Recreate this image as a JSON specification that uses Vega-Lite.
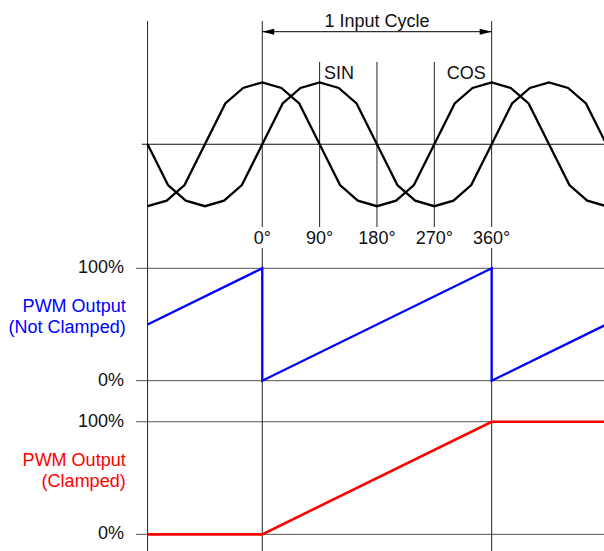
{
  "$schema": "https://vega.github.io/schema/vega-lite/v6.json",
  "padding": 0,
  "spacing": 0,
  "bounds": "flush",
  "background": "white",
  "config": {
    "view": {"stroke": null},
    "font": "Liberation Sans",
    "text": {"font": "Liberation Sans", "fontSize": 18, "color": "#111"}
  },
  "datasets": {
    "waves": [
      {"curve": "SIN", "deg": -180, "val": 0}, {"curve": "SIN", "deg": -148, "val": -0.66}, {"curve": "SIN", "deg": -120, "val": -0.91},
      {"curve": "SIN", "deg": -90, "val": -1}, {"curve": "SIN", "deg": -60, "val": -0.91}, {"curve": "SIN", "deg": -32, "val": -0.66},
      {"curve": "SIN", "deg": 0, "val": 0}, {"curve": "SIN", "deg": 32, "val": 0.66}, {"curve": "SIN", "deg": 60, "val": 0.91},
      {"curve": "SIN", "deg": 90, "val": 1}, {"curve": "SIN", "deg": 120, "val": 0.91}, {"curve": "SIN", "deg": 148, "val": 0.66},
      {"curve": "SIN", "deg": 180, "val": 0}, {"curve": "SIN", "deg": 212, "val": -0.66}, {"curve": "SIN", "deg": 240, "val": -0.91},
      {"curve": "SIN", "deg": 270, "val": -1}, {"curve": "SIN", "deg": 300, "val": -0.91}, {"curve": "SIN", "deg": 328, "val": -0.66},
      {"curve": "SIN", "deg": 360, "val": 0}, {"curve": "SIN", "deg": 392, "val": 0.66}, {"curve": "SIN", "deg": 420, "val": 0.91},
      {"curve": "SIN", "deg": 450, "val": 1}, {"curve": "SIN", "deg": 480, "val": 0.91}, {"curve": "SIN", "deg": 508, "val": 0.66},
      {"curve": "SIN", "deg": 540, "val": 0},
      {"curve": "COS", "deg": -180, "val": -1}, {"curve": "COS", "deg": -150, "val": -0.91}, {"curve": "COS", "deg": -122, "val": -0.66},
      {"curve": "COS", "deg": -90, "val": 0}, {"curve": "COS", "deg": -58, "val": 0.66}, {"curve": "COS", "deg": -30, "val": 0.91},
      {"curve": "COS", "deg": 0, "val": 1}, {"curve": "COS", "deg": 30, "val": 0.91}, {"curve": "COS", "deg": 58, "val": 0.66},
      {"curve": "COS", "deg": 90, "val": 0}, {"curve": "COS", "deg": 122, "val": -0.66}, {"curve": "COS", "deg": 150, "val": -0.91},
      {"curve": "COS", "deg": 180, "val": -1}, {"curve": "COS", "deg": 210, "val": -0.91}, {"curve": "COS", "deg": 238, "val": -0.66},
      {"curve": "COS", "deg": 270, "val": 0}, {"curve": "COS", "deg": 302, "val": 0.66}, {"curve": "COS", "deg": 330, "val": 0.91},
      {"curve": "COS", "deg": 360, "val": 1}, {"curve": "COS", "deg": 390, "val": 0.91}, {"curve": "COS", "deg": 418, "val": 0.66},
      {"curve": "COS", "deg": 450, "val": 0}, {"curve": "COS", "deg": 482, "val": -0.66}, {"curve": "COS", "deg": 510, "val": -0.91},
      {"curve": "COS", "deg": 540, "val": -1}
    ],
    "topLines": [
      {"deg": -180, "top": 1.991, "bot": -1.74},
      {"deg": 0, "top": 1.991, "bot": -1.336},
      {"deg": 0, "top": -1.675, "bot": -1.74},
      {"deg": 360, "top": 1.991, "bot": -1.336},
      {"deg": 360, "top": -1.675, "bot": -1.74},
      {"deg": 90, "top": 1.329, "bot": -1.336},
      {"deg": 180, "top": 1.329, "bot": -1.336},
      {"deg": 270, "top": 1.329, "bot": -1.336}
    ],
    "degLabels": [
      {"deg": 0, "label": "0°"}, {"deg": 90, "label": "90°"}, {"deg": 180, "label": "180°"},
      {"deg": 270, "label": "270°"}, {"deg": 360, "label": "360°"}
    ],
    "fullLines": [{"deg": -180}, {"deg": 0}, {"deg": 360}],
    "grid": [{"pct": 0, "label": "0%"}, {"pct": 100, "label": "100%"}],
    "sawtooth": [
      {"i": 0, "deg": -180, "pct": 50}, {"i": 1, "deg": 0, "pct": 100}, {"i": 2, "deg": 0, "pct": 0},
      {"i": 3, "deg": 360, "pct": 100}, {"i": 4, "deg": 360, "pct": 0}, {"i": 5, "deg": 540, "pct": 50}
    ],
    "clamped": [
      {"deg": -180, "pct": 0}, {"deg": 0, "pct": 0}, {"deg": 360, "pct": 100}, {"deg": 540, "pct": 100}
    ]
  },
  "vconcat": [
    {
      "width": 604,
      "height": 252,
      "layer": [
        {
          "data": {"values": [{"x1": -189, "x2": 536.3, "v": 0}]},
          "mark": {"type": "rule", "color": "#111", "strokeWidth": 1},
          "encoding": {
            "x": {"field": "x1", "type": "quantitative", "scale": {"domain": [-411.6, 536.3], "nice": false, "zero": false}, "axis": null},
            "x2": {"field": "x2"},
            "y": {"field": "v", "type": "quantitative", "scale": {"domain": [-1.74, 2.33], "nice": false, "zero": false}, "axis": null}
          }
        },
        {
          "data": {"name": "topLines"},
          "mark": {"type": "rule", "color": "#222", "strokeWidth": 1},
          "encoding": {
            "x": {"field": "deg", "type": "quantitative"},
            "y": {"field": "top", "type": "quantitative"},
            "y2": {"field": "bot"}
          }
        },
        {
          "data": {"name": "waves"},
          "mark": {"type": "line", "color": "black", "strokeWidth": 2.3, "clip": true},
          "encoding": {
            "x": {"field": "deg", "type": "quantitative"},
            "y": {"field": "val", "type": "quantitative"},
            "detail": {"field": "curve"}
          }
        },
        {
          "data": {"values": [{"a": 0, "b": 360, "v": 1.818}]},
          "mark": {"type": "rule", "color": "black", "strokeWidth": 1},
          "encoding": {
            "x": {"field": "a", "type": "quantitative"},
            "x2": {"field": "b"},
            "y": {"field": "v", "type": "quantitative"}
          }
        },
        {
          "data": {"values": [{"a": 0, "v": 1.818}]},
          "mark": {"type": "point", "shape": "M0,0 L2,-0.5 L2,0.5 Z", "size": 144, "filled": true, "color": "black", "opacity": 1},
          "encoding": {
            "x": {"field": "a", "type": "quantitative"},
            "y": {"field": "v", "type": "quantitative"}
          }
        },
        {
          "data": {"values": [{"a": 360, "v": 1.818}]},
          "mark": {"type": "point", "shape": "M0,0 L-2,-0.5 L-2,0.5 Z", "size": 144, "filled": true, "color": "black", "opacity": 1},
          "encoding": {
            "x": {"field": "a", "type": "quantitative"},
            "y": {"field": "v", "type": "quantitative"}
          }
        },
        {
          "data": {"values": [{"a": 180, "v": 1.9, "t": "1 Input Cycle"}]},
          "mark": {"type": "text", "align": "center", "baseline": "alphabetic"},
          "encoding": {
            "x": {"field": "a", "type": "quantitative"},
            "y": {"field": "v", "type": "quantitative"},
            "text": {"field": "t"}
          }
        },
        {
          "data": {"values": [{"a": 96.8, "v": 1.055, "t": "SIN"}]},
          "mark": {"type": "text", "align": "left", "baseline": "alphabetic"},
          "encoding": {
            "x": {"field": "a", "type": "quantitative"},
            "y": {"field": "v", "type": "quantitative"},
            "text": {"field": "t"}
          }
        },
        {
          "data": {"values": [{"a": 350.6, "v": 1.055, "t": "COS"}]},
          "mark": {"type": "text", "align": "right", "baseline": "alphabetic"},
          "encoding": {
            "x": {"field": "a", "type": "quantitative"},
            "y": {"field": "v", "type": "quantitative"},
            "text": {"field": "t"}
          }
        },
        {
          "data": {"name": "degLabels"},
          "mark": {"type": "text", "align": "center", "baseline": "alphabetic"},
          "encoding": {
            "x": {"field": "deg", "type": "quantitative"},
            "y": {"datum": -1.61, "type": "quantitative"},
            "text": {"field": "label"}
          }
        }
      ]
    },
    {
      "width": 604,
      "height": 148,
      "layer": [
        {
          "data": {"name": "grid"},
          "mark": {"type": "rule", "color": "#555", "strokeWidth": 1},
          "encoding": {
            "x": {"datum": -198.2, "type": "quantitative", "scale": {"domain": [-411.6, 536.3], "nice": false, "zero": false}, "axis": null},
            "x2": {"datum": 536.3},
            "y": {"field": "pct", "type": "quantitative", "scale": {"domain": [-17.2, 114.5], "nice": false, "zero": false}, "axis": null}
          }
        },
        {
          "data": {"name": "fullLines"},
          "mark": {"type": "rule", "color": "#222", "strokeWidth": 1},
          "encoding": {"x": {"field": "deg", "type": "quantitative"}}
        },
        {
          "data": {"name": "sawtooth"},
          "mark": {"type": "line", "color": "#0000ff", "strokeWidth": 2.3, "clip": true},
          "encoding": {
            "x": {"field": "deg", "type": "quantitative"},
            "y": {"field": "pct", "type": "quantitative"},
            "order": {"field": "i"}
          }
        },
        {
          "data": {"name": "grid"},
          "mark": {"type": "text", "align": "right", "baseline": "middle"},
          "encoding": {
            "x": {"datum": -217.1, "type": "quantitative"},
            "y": {"field": "pct", "type": "quantitative"},
            "text": {"field": "label"}
          }
        },
        {
          "data": {"values": [{"t": "PWM Output", "p": 61.4}, {"t": "(Not Clamped)", "p": 42.6}]},
          "mark": {"type": "text", "align": "right", "baseline": "alphabetic", "color": "#0000ff"},
          "encoding": {
            "x": {"datum": -214.4, "type": "quantitative"},
            "y": {"field": "p", "type": "quantitative"},
            "text": {"field": "t"}
          }
        }
      ]
    },
    {
      "width": 604,
      "height": 151,
      "layer": [
        {
          "data": {"name": "grid"},
          "mark": {"type": "rule", "color": "#555", "strokeWidth": 1},
          "encoding": {
            "x": {"datum": -198.2, "type": "quantitative", "scale": {"domain": [-411.6, 536.3], "nice": false, "zero": false}, "axis": null},
            "x2": {"datum": 536.3},
            "y": {"field": "pct", "type": "quantitative", "scale": {"domain": [-14.8, 119.3], "nice": false, "zero": false}, "axis": null}
          }
        },
        {
          "data": {"name": "fullLines"},
          "mark": {"type": "rule", "color": "#222", "strokeWidth": 1},
          "encoding": {"x": {"field": "deg", "type": "quantitative"}}
        },
        {
          "data": {"name": "clamped"},
          "mark": {"type": "line", "color": "#ff0000", "strokeWidth": 2.6, "clip": true},
          "encoding": {
            "x": {"field": "deg", "type": "quantitative"},
            "y": {"field": "pct", "type": "quantitative"}
          }
        },
        {
          "data": {"name": "grid"},
          "mark": {"type": "text", "align": "right", "baseline": "middle"},
          "encoding": {
            "x": {"datum": -217.1, "type": "quantitative"},
            "y": {"field": "pct", "type": "quantitative"},
            "text": {"field": "label"}
          }
        },
        {
          "data": {"values": [{"t": "PWM Output", "p": 60.9}, {"t": "(Clamped)", "p": 41.7}]},
          "mark": {"type": "text", "align": "right", "baseline": "alphabetic", "color": "#ff0000"},
          "encoding": {
            "x": {"datum": -214.4, "type": "quantitative"},
            "y": {"field": "p", "type": "quantitative"},
            "text": {"field": "t"}
          }
        }
      ]
    }
  ]
}
